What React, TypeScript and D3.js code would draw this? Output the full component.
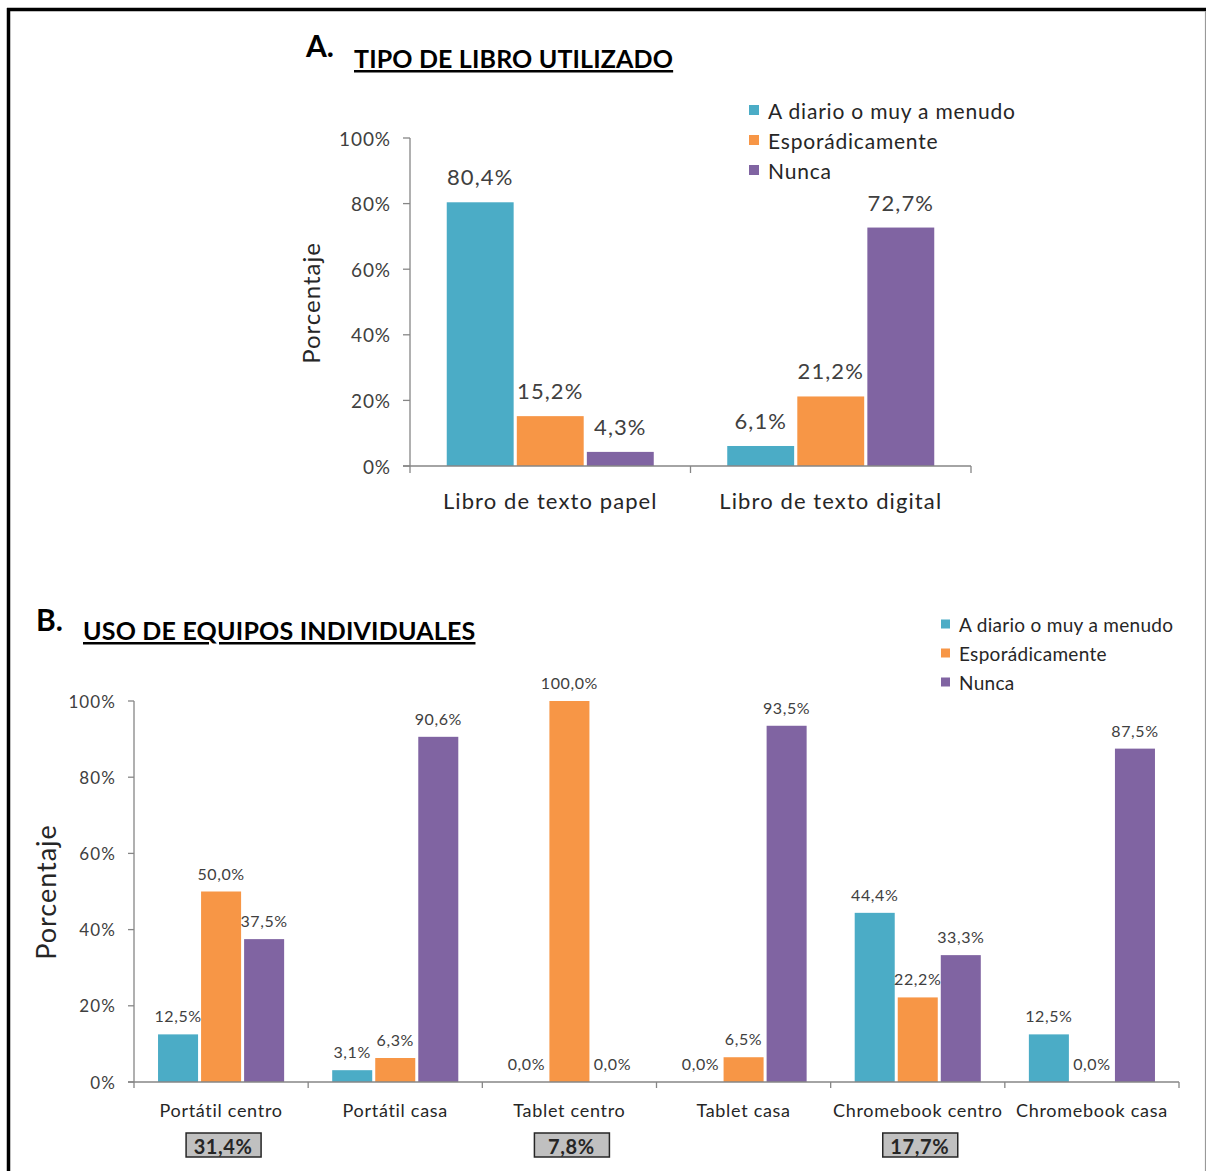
import React from "react";
import * as d3 from "d3";

const seriesNames = ["A diario o muy a menudo", "Esporádicamente", "Nunca"];
const seriesColors = ["#4bacc6", "#f79646", "#8064a2"];

const categoriesA = ["Libro de texto papel", "Libro de texto digital"];
const diarioA = [80.4, 6.1];
const esporadicoA = [15.2, 21.2];
const nuncaA = [4.3, 72.7];

const categoriesB = [
  "Portátil centro",
  "Portátil casa",
  "Tablet centro",
  "Tablet casa",
  "Chromebook centro",
  "Chromebook casa",
];
const diarioB = [12.5, 3.1, 0.0, 0.0, 44.4, 12.5];
const esporadicoB = [50.0, 6.3, 100.0, 6.5, 22.2, 0.0];
const nuncaB = [37.5, 90.6, 0.0, 93.5, 33.3, 87.5];
const totalsB: (number | null)[] = [31.4, null, 7.8, null, 17.7, null];

const yTicks = [0, 20, 40, 60, 80, 100];

const FONT = "Lato, 'Open Sans', sans-serif";
const fmt = (v: number) => v.toFixed(1).replace(".", ",") + "%";

type TextStyle = { size: number; ls: number };

type PanelProps = {
  categories: string[];
  series: number[][];
  x0: number;
  x1: number;
  yTop: number;
  yBottom: number;
  padFrac: number;
  gapFrac: number;
  tick: TextStyle;
  tickGap: number;
  cat: TextStyle;
  catY: number;
  label: TextStyle;
  labelOffset: number;
  titleX: number;
  titleY: number;
  title: TextStyle;
  tickLen: number;
};

function Panel(p: PanelProps) {
  const x = d3.scaleBand<string>().domain(p.categories).range([p.x0, p.x1]).paddingInner(0).paddingOuter(0);
  const bw = x.bandwidth();
  const inner = d3
    .scaleBand<number>()
    .domain([0, 1, 2])
    .range([bw * p.padFrac, bw * (1 - p.padFrac)])
    .paddingInner(p.gapFrac)
    .paddingOuter(0);
  const y = d3.scaleLinear().domain([0, 100]).range([p.yBottom, p.yTop]);
  const axisColor = "#868686";
  const boundaries = d3.range(p.categories.length + 1).map((i) => p.x0 + i * bw);
  return (
    <g>
      <line x1={p.x0} x2={p.x0} y1={y(100)} y2={y(0)} stroke={axisColor} strokeWidth={1.3} />
      {yTicks.map((t) => (
        <g key={t}>
          <line x1={p.x0 - p.tickLen} x2={p.x0} y1={y(t)} y2={y(t)} stroke={axisColor} strokeWidth={1.3} />
          <text
            x={p.x0 - p.tickLen - p.tickGap}
            y={y(t)}
            textAnchor="end"
            dominantBaseline="central"
            fontSize={p.tick.size}
            letterSpacing={p.tick.ls}
            fill="#404040"
            fontFamily={FONT}
          >
            {t}%
          </text>
        </g>
      ))}
      {p.categories.map((c, ci) => (
        <g key={c} transform={`translate(${x(c)},0)`}>
          {p.series.map((s, si) => {
            const v = s[ci];
            const bx = inner(si)!;
            return (
              <g key={si}>
                <rect
                  x={bx}
                  y={y(v)}
                  width={inner.bandwidth()}
                  height={y(0) - y(v)}
                  fill={seriesColors[si]}
                />
                <text
                  x={bx + inner.bandwidth() / 2}
                  y={y(v) - p.labelOffset}
                  textAnchor="middle"
                  fontSize={p.label.size}
                  letterSpacing={p.label.ls}
                  fill="#404040"
                  fontFamily={FONT}
                >
                  {fmt(v)}
                </text>
              </g>
            );
          })}
        </g>
      ))}
      <line x1={p.x0 - p.tickLen} x2={p.x1} y1={y(0)} y2={y(0)} stroke={axisColor} strokeWidth={1.3} />
      {boundaries.map((b, i) => (
        <line key={i} x1={b} x2={b} y1={y(0)} y2={y(0) + p.tickLen} stroke={axisColor} strokeWidth={1.3} />
      ))}
      {p.categories.map((c) => (
        <text
          key={c}
          x={x(c)! + bw / 2}
          y={p.catY}
          textAnchor="middle"
          dominantBaseline="central"
          fontSize={p.cat.size}
          letterSpacing={p.cat.ls}
          fill="#262626"
          fontFamily={FONT}
        >
          {c}
        </text>
      ))}
      <text
        transform={`translate(${p.titleX},${p.titleY}) rotate(-90)`}
        textAnchor="middle"
        dominantBaseline="central"
        fontSize={p.title.size}
        letterSpacing={p.title.ls}
        fill="#262626"
        fontFamily={FONT}
      >
        Porcentaje
      </text>
    </g>
  );
}

function Legend({ x, y, gap, size, font, ls }: { x: number; y: number; gap: number; size: number; font: number; ls: number }) {
  return (
    <g>
      {seriesNames.map((n, i) => (
        <g key={n} transform={`translate(${x},${y + i * gap})`}>
          <rect x={0} y={-size / 2} width={size} height={size} fill={seriesColors[i]} />
          <text
            x={size + 9}
            y={0}
            dominantBaseline="central"
            fontSize={font}
            letterSpacing={ls}
            fill="#262626"
            fontFamily={FONT}
          >
            {n}
          </text>
        </g>
      ))}
    </g>
  );
}

export default function App() {
  const xB0 = 134;
  const xB1 = 1179;
  const bandB = d3.scaleBand<string>().domain(categoriesB).range([xB0, xB1]);
  return (
    <svg
      width={1206}
      height={1171}
      style={{ position: "absolute", left: 0, top: 0, background: "#fff" }}
      fontFamily={FONT}
    >
      <rect x={0} y={0} width={1206} height={1171} fill="#fff" />
      <line x1={8.5} x2={8.5} y1={8} y2={1171} stroke="#000" strokeWidth={3.5} />
      <line x1={7} x2={1206} y1={9.5} y2={9.5} stroke="#000" strokeWidth={3.5} />
      <line x1={1205.5} x2={1205.5} y1={11} y2={1171} stroke="#999" strokeWidth={1.2} />

      {/* Panel A */}
      <text x={306} y={57} fontSize={30} fontWeight="bold" fill="#000" fontFamily={FONT}>
        A.
      </text>
      <text x={354} y={68} fontSize={25} letterSpacing={0.15} fontWeight="bold" fill="#000" fontFamily={FONT} textDecoration="underline">
        TIPO DE LIBRO UTILIZADO
      </text>
      <Legend x={749} y={110} gap={30} size={10} font={21} ls={0.8} />
      <Panel
        categories={categoriesA}
        series={[diarioA, esporadicoA, nuncaA]}
        x0={410}
        x1={971}
        yTop={138}
        yBottom={466}
        padFrac={0.131}
        gapFrac={0.045}
        tick={{ size: 19, ls: 0.9 }}
        tickGap={12}
        cat={{ size: 22, ls: 1.1 }}
        catY={500}
        label={{ size: 22, ls: 1.1 }}
        labelOffset={17}
        titleX={310}
        titleY={303}
        title={{ size: 24, ls: 1 }}
        tickLen={7}
      />

      {/* Panel B */}
      <text x={36} y={631} fontSize={30} fontWeight="bold" fill="#000" fontFamily={FONT}>
        B.
      </text>
      <text x={83} y={640} fontSize={25} letterSpacing={0.2} fontWeight="bold" fill="#000" fontFamily={FONT} textDecoration="underline">
        USO DE EQUIPOS INDIVIDUALES
      </text>
      <Legend x={941} y={624} gap={29} size={9} font={19} ls={0.3} />
      <Panel
        categories={categoriesB}
        series={[diarioB, esporadicoB, nuncaB]}
        x0={xB0}
        x1={xB1}
        yTop={701}
        yBottom={1082}
        padFrac={0.138}
        gapFrac={0.07}
        tick={{ size: 17, ls: 1.1 }}
        tickGap={12}
        cat={{ size: 18, ls: 0.7 }}
        catY={1110}
        label={{ size: 16, ls: 0.6 }}
        labelOffset={12}
        titleX={45}
        titleY={892}
        title={{ size: 27, ls: 1 }}
        tickLen={6}
      />
      {categoriesB.map((c, i) => {
        const t = totalsB[i];
        if (t === null) return null;
        const cx = bandB(c)! + bandB.bandwidth() / 2 + 2;
        return (
          <g key={c}>
            <rect x={cx - 37} y={1133} width={75} height={24} fill="#c0c0c0" stroke="#262626" strokeWidth={1.5} />
            <text
              x={cx}
              y={1146}
              textAnchor="middle"
              dominantBaseline="central"
              fontSize={20}
              letterSpacing={0.6}
              fontWeight="bold"
              fill="#262626"
              fontFamily={FONT}
            >
              {fmt(t)}
            </text>
          </g>
        );
      })}
    </svg>
  );
}
